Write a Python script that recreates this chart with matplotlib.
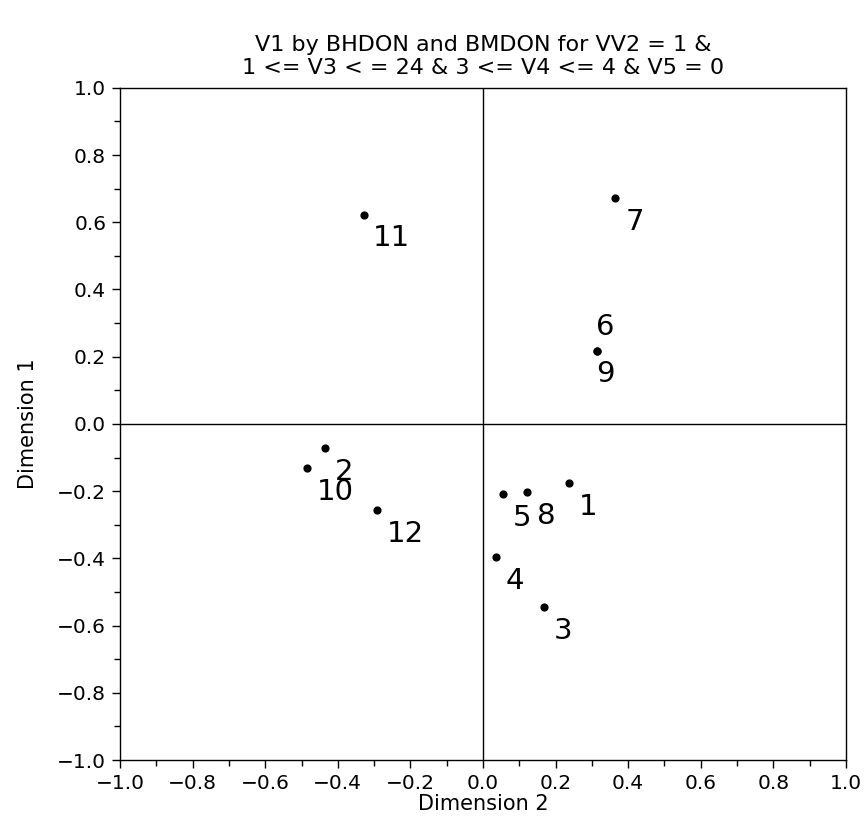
import numpy as np
import matplotlib.pyplot as plt
from matplotlib.ticker import MultipleLocator, FuncFormatter

plt.rcParams['font.family'] = ['DejaVu Sans']

# correspondence coordinates for the 12 V1 categories
labels = ['1', '2', '3', '4', '5', '6', '7', '8', '9', '10', '11', '12']
dim2 = [0.238, -0.434, 0.167, 0.035, 0.054, 0.315, 0.365, 0.122, 0.315, -0.485, -0.329, -0.293]
dim1 = [-0.176, -0.072, -0.546, -0.397, -0.209, 0.218, 0.672, -0.203, 0.218, -0.131, 0.622, -0.257]

# label offsets (points) - 6 and 9 share a position, 6 above and 9 below
offsets = {'6': (-1, 17), '9': (-1, -17)}
default_off = (7, -17)


def tick_fmt(v, pos):
    s = '%.1f' % v
    if s == '-0.0':
        s = '0.0'
    return s.replace('-', '\u2212')


fig = plt.figure(figsize=(8.64, 8.32), dpi=100)
ax = fig.add_axes([0.139, 0.0865, 0.840, 0.808])

ax.axhline(0, color='black', lw=1.0, zorder=1)
ax.axvline(0, color='black', lw=1.0, zorder=1)

ax.scatter(dim2, dim1, s=24, color='black', zorder=3)
for lab, x, y in zip(labels, dim2, dim1):
    off = offsets.get(lab, default_off)
    ax.annotate(lab, (x, y), xytext=off, textcoords='offset points',
                ha='left', va='center', fontsize=21)

ax.set_xlim(-1.0, 1.0)
ax.set_ylim(-1.0, 1.0)
ax.xaxis.set_major_locator(MultipleLocator(0.2))
ax.xaxis.set_minor_locator(MultipleLocator(0.1))
ax.yaxis.set_major_locator(MultipleLocator(0.2))
ax.yaxis.set_minor_locator(MultipleLocator(0.1))
ax.xaxis.set_major_formatter(FuncFormatter(tick_fmt))
ax.yaxis.set_major_formatter(FuncFormatter(tick_fmt))
ax.tick_params(which='major', direction='out', length=6, width=1, labelsize=14.5, pad=4)
ax.tick_params(which='minor', direction='out', length=4, width=1)
for sp in ax.spines.values():
    sp.set_linewidth(1.0)

ax.set_xlabel('Dimension 2', fontsize=15, labelpad=1)
ax.set_ylabel('Dimension 1', fontsize=15, labelpad=14)
ax.set_title('V1 by BHDON and BMDON for VV2 = 1 &\n'
             '1 <= V3 < = 24 & 3 <= V4 <= 4 & V5 = 0',
             fontsize=16, pad=10, linespacing=1.15)

plt.savefig('out.png', dpi=100)
